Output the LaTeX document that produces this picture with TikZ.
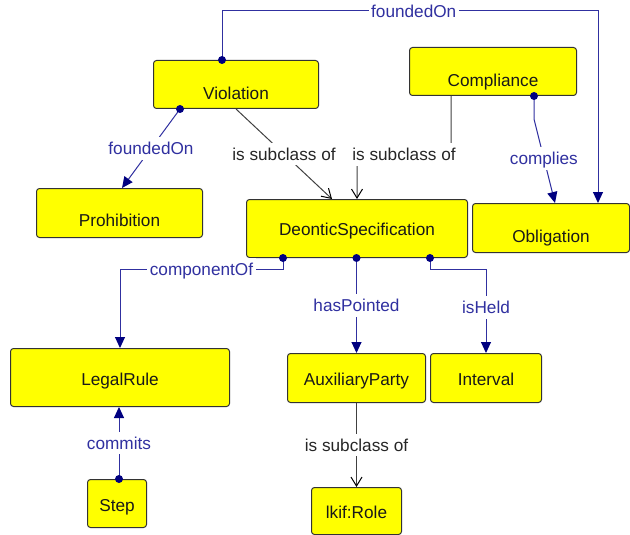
\documentclass[tikz,border=0pt]{standalone}
\usepackage{fontspec}
\setmainfont{Liberation Sans}
\usetikzlibrary{arrows.meta}
\definecolor{clsyellow}{RGB}{255,255,0}
\definecolor{relblue}{RGB}{48,48,160}
\definecolor{relnavy}{RGB}{0,0,128}

\begin{document}
\begin{tikzpicture}[x=1pt, y=-1pt,
  font=\fontsize{17.2}{20}\selectfont,
  cls/.style={draw=black!80, fill=clsyellow, line width=1pt, rounded corners=3pt,
    anchor=north west, inner sep=0pt, text=black!90, text height=#1, text depth=0pt},
  cls/.default=15pt,
  rel/.style={draw=relblue, line width=1pt, -{Triangle[length=11pt,width=10pt,color=relnavy]}},
  sub/.style={draw=black!75, line width=1pt, -{Straight Barb[length=9pt,width=11pt,color=black]}},
  rlab/.style={fill=white, text=relblue, inner xsep=2.5pt, inner ysep=5pt,
    text height=12.5pt, text depth=0pt},
  slab/.style={rlab, text=black!85},
  dot/.style={circle, fill=relnavy, inner sep=0pt, minimum size=8pt},
  ]
  \useasboundingbox (0,0) rectangle (630,535);

  %%% class boxes %%%
  \node[cls=30pt, minimum width=165pt, minimum height=48pt] (viol) at (153,60)  {Violation};
  \node[cls=30pt, minimum width=167pt, minimum height=48pt] (comp) at (409,47)  {Compliance};
  \node[cls=27pt, minimum width=166pt, minimum height=49pt] (proh) at (36,188)  {Prohibition};
  \node[cls=14pt, minimum width=221pt, minimum height=58pt] (deon) at (246,199) {DeonticSpecification};
  \node[cls=29pt, minimum width=157pt, minimum height=49pt] (obl)  at (472,203) {Obligation};
  \node[cls=16pt, minimum width=219pt, minimum height=58pt] (leg)  at (10,348)  {LegalRule};
  \node[cls, minimum width=138pt, minimum height=49pt]      (aux)  at (287,353) {AuxiliaryParty};
  \node[cls, minimum width=111pt, minimum height=49pt]      (intv) at (430,353) {Interval};
  \node[cls=16pt, minimum width=59pt, minimum height=48pt]  (step) at (87,479)  {Step};
  \node[cls, minimum width=90pt, minimum height=47pt]       (role) at (311,487) {lkif:Role};

  %%% subclass links %%%
  \draw[sub] ([xshift=83pt]viol.south west)
    -- node[slab] (lSubViol) {is subclass of} ([xshift=86pt]deon.north west);
  \draw[sub] ([xshift=42pt]comp.south west) -- ++(0,52)
    -- node[slab] (lSubComp) {is subclass of} ([yshift=38pt]deon.north) -- (deon.north);
  \draw[sub] (aux.south) -- node[slab] (lSubAux) {is subclass of} (role.north);

  %%% object properties %%%
  \draw[rel] ([xshift=69pt]viol.north west) node[dot] (dViolTop) {} -- ++(0,-49)
    -| node[rlab, pos=0.255] (lFoundObl) {foundedOn} ([xshift=126pt]obl.north west);
  \draw[rel] ([xshift=27pt]viol.south west) node[dot] (dViolBot) {}
    -- node[rlab] (lFoundProh) {foundedOn} ([xshift=86pt]proh.north west);
  \draw[rel] ([xshift=125pt]comp.south west) node[dot] (dComp) {} -- ++(0,23)
    -- node[rlab, pos=0.47] (lComplies) {complies} ([xshift=83pt]obl.north west);
  \draw[rel] ([xshift=37pt]deon.south west) node[dot] (dDeonL) {} -- ++(0,11)
    -| node[rlab, pos=0.25] (lCompOf) {componentOf} ([xshift=110pt]leg.north west);
  \draw[rel] (aux.north |- deon.south) node[dot] (dDeonM) {}
    -- node[rlab] (lHasPt) {hasPointed} (aux.north);
  \draw[rel] ([xshift=184pt]deon.south west) node[dot] (dDeonR) {} -- ++(0,11)
    -| node[rlab, pos=0.73] (lIsHeld) {isHeld} (intv.north);
  \draw[rel] ([xshift=32pt]step.north west) node[dot] (dStep) {}
    -- node[rlab] (lCommits) {commits} ([xshift=109pt]leg.south west);
\end{tikzpicture}
\end{document}
